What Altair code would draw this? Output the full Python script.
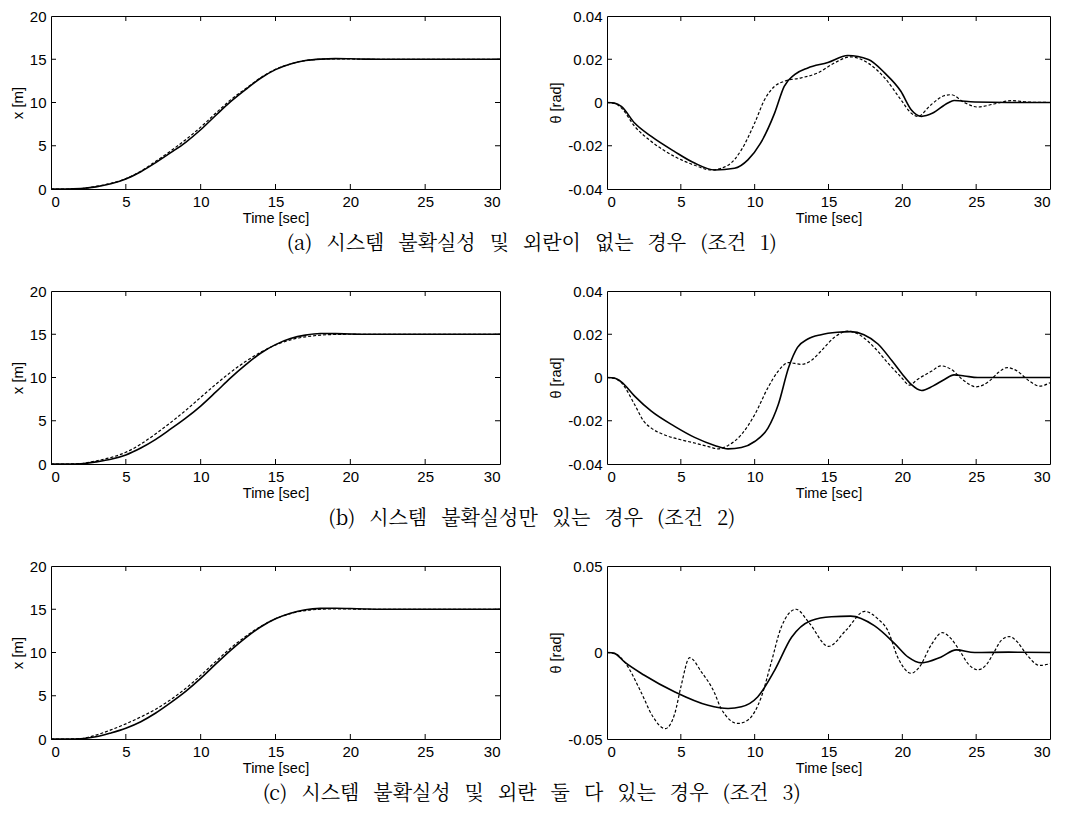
import altair as alt
import pandas as pd

# ---------------- data ----------------
XT = list(range(0, 31))

# (a) position x [m]
xa_solid = [0, 0, 0.05, 0.25, 0.6, 1.16, 2.0, 3.05, 4.2, 5.4, 6.85, 8.5, 10.1, 11.5, 12.8, 13.8,
            14.45, 14.85, 15.02, 15.07, 15.05, 15.02, 15.0, 15.0, 15.0, 15.0, 15.0, 15.0, 15.0, 15.0, 15.0]
xa_dash = [0, 0, 0.05, 0.3, 0.65, 1.2, 2.05, 3.2, 4.4, 5.7, 7.15, 8.75, 10.3, 11.6, 12.85, 13.85,
           14.45, 14.85, 15.0, 15.05, 15.03, 15.0, 15.0, 15.0, 15.0, 15.0, 15.0, 15.0, 15.0, 15.0, 15.0]
# (b)
xb_solid = [0, 0, 0.03, 0.25, 0.55, 1.05, 1.85, 2.85, 4.05, 5.3, 6.7, 8.3, 9.95, 11.45, 12.8, 13.8,
            14.5, 14.9, 15.08, 15.07, 15.03, 15.0, 15.0, 15.0, 15.0, 15.0, 15.0, 15.0, 15.0, 15.0, 15.0]
xb_dash = [0, 0, 0.05, 0.35, 0.75, 1.35, 2.3, 3.5, 4.8, 6.2, 7.7, 9.2, 10.6, 11.85, 12.9, 13.75,
           14.35, 14.7, 14.9, 14.98, 15.0, 15.0, 15.0, 15.0, 15.0, 15.0, 15.0, 15.0, 15.0, 15.0, 15.0]
# (c)
xc_solid = [0, 0, 0.03, 0.25, 0.7, 1.25, 2.0, 3.0, 4.2, 5.5, 7.0, 8.65, 10.25, 11.7, 12.95, 13.9,
            14.55, 14.95, 15.1, 15.12, 15.08, 15.03, 15.0, 15.0, 15.0, 15.0, 15.0, 15.0, 15.0, 15.0, 15.0]
xc_dash = [0, 0, 0.05, 0.45, 1.05, 1.75, 2.55, 3.45, 4.55, 5.85, 7.35, 8.95, 10.5, 11.85, 13.0, 13.9,
           14.5, 14.85, 15.0, 15.05, 15.03, 15.0, 15.0, 15.0, 15.0, 15.0, 15.0, 15.0, 15.0, 15.0, 15.0]

# (a) angle theta [rad]
ta_solid_t = [0, 0.5, 0.97, 1.87, 3, 4.58, 5.93, 7.29, 8.64, 9.54, 10.4, 11.35, 12.0, 12.7, 13.6, 14.96,
              16.3, 17.7, 18.8, 19.9, 20.6, 21.3, 22.06, 23.08, 23.5, 24.9, 27.1, 30]
ta_solid_v = [0, -0.0003, -0.0018, -0.0095, -0.0157, -0.0227, -0.028, -0.0312, -0.0304, -0.0265, -0.0188,
              -0.0049, 0.0075, 0.0129, 0.016, 0.0185, 0.0217, 0.0199, 0.0137, 0.0052, -0.0033, -0.0064,
              -0.0049, -0.0002, 0.0009, 0.0002, 0.0, 0.0]
ta_dash_t = [0, 0.5, 0.97, 1.87, 3, 4.58, 5.93, 7.06, 8.2, 9.1, 10.0, 10.67, 11.35, 12.0, 13.15, 14.28,
             15.4, 16.5, 17.66, 18.8, 19.9, 20.6, 21.05, 21.95, 22.85, 23.3, 24.2, 25.1, 26.2, 27.4, 28.5, 30]
ta_dash_v = [0, -0.0004, -0.0025, -0.011, -0.018, -0.025, -0.029, -0.0312, -0.029, -0.0219, -0.0095,
             0.0013, 0.0075, 0.0098, 0.0114, 0.0137, 0.0183, 0.0211, 0.0183, 0.0114, 0.0013, -0.0049,
             -0.0064, -0.001, 0.0032, 0.0036, 0.0, -0.0021, -0.0007, 0.0009, 0.0002, 0.0]

# (b)
tb_solid_t = [0, 0.5, 0.97, 1.87, 3, 4.58, 5.93, 7.29, 8.2, 9.1, 10.0, 10.9, 11.6, 12.3, 12.9, 13.6, 14.5,
              15.6, 16.5, 17.4, 18.35, 19.3, 20.0, 20.6, 21.3, 22.06, 22.85, 23.5, 24.2, 25.1, 26.2, 30]
tb_solid_v = [0, -0.0003, -0.002, -0.0086, -0.0156, -0.0226, -0.0277, -0.0314, -0.033, -0.0324, -0.0296,
              -0.0234, -0.0125, 0.0046, 0.0139, 0.0178, 0.0198, 0.0209, 0.0212, 0.0198, 0.0155, 0.0077,
              0.0015, -0.0032, -0.006, -0.004, -0.0009, 0.0012, 0.0007, 0.0, 0.0, 0.0]
tb_dash_t = [0, 0.5, 0.97, 1.87, 2.5, 3, 4.0, 5.0, 6.0, 7.0, 7.5, 8.2, 9.1, 10.0, 10.9, 11.6, 12.3, 13.15,
             13.8, 14.5, 15.4, 16.3, 17.2, 18.1, 19.0, 19.9, 20.5, 21.0, 22.0, 22.6, 23.3, 24.2, 25.0, 25.9,
             26.5, 27.1, 27.7, 28.6, 29.3, 30]
tb_dash_v = [0, -0.0004, -0.0024, -0.0125, -0.0203, -0.0234, -0.0268, -0.0288, -0.0304, -0.0322, -0.033,
             -0.0314, -0.0264, -0.0172, -0.0047, 0.003, 0.0069, 0.0061, 0.0077, 0.0123, 0.0186, 0.0214,
             0.0193, 0.0139, 0.0069, 0.0003, -0.0035, -0.001, 0.003, 0.0054, 0.0038, -0.0016, -0.0043,
             -0.0016, 0.0023, 0.0046, 0.0033, -0.0016, -0.004, -0.0024]

# (c)
tc_solid_t = [0, 0.5, 1.2, 2.5, 4.6, 6.84, 8.2, 9.1, 10.2, 11.35, 12.5, 13.8, 15.2, 16.5, 18.1, 19.5,
              20.4, 21.3, 22.6, 23.65, 24.9, 27.2, 30]
tc_solid_v = [0, -0.0005, -0.0056, -0.013, -0.0228, -0.0305, -0.0324, -0.0314, -0.0257, -0.0103, 0.0088,
              0.0184, 0.0207, 0.021, 0.0155, 0.005, -0.0027, -0.006, -0.0027, 0.0015, 0.0, 0.0002, 0.0]
tc_dash_t = [0, 0.5, 1.2, 2.3, 3.1, 3.95, 4.6, 5.0, 5.6, 6.4, 7.3, 7.7, 8.87, 9.55, 10.45, 11.1, 11.8,
             12.8, 13.7, 15.0, 16.2, 17.45, 18.4, 19.0, 19.7, 20.6, 21.1, 22.0, 22.7, 23.3, 23.9, 24.5,
             25.1, 25.7, 26.2, 26.7, 27.25, 27.8, 28.4, 29.3, 30]
tc_dash_v = [0, -0.0005, -0.0056, -0.0228, -0.037, -0.044, -0.035, -0.02, -0.003, -0.0113, -0.0237, -0.032,
             -0.041, -0.039, -0.0257, -0.0065, 0.0146, 0.025, 0.017, 0.0035, 0.013, 0.0238, 0.019,
             0.013, -0.003, -0.012, -0.009, 0.005, 0.0115, 0.008, 0.0008, -0.007, -0.010, -0.007,
             0.0, 0.007, 0.0092, 0.006, -0.001, -0.0075, -0.0065]

X_TICKS = [0, 5, 10, 15, 20, 25, 30]
POS_TICKS = [0, 5, 10, 15, 20]
ANG_TICKS_AB = [-0.04, -0.02, 0, 0.02, 0.04]
ANG_TICKS_C = [-0.05, 0, 0.05]

CAPTIONS = [
    "(a) 시스템 불확실성 및 외란이 없는 경우 (조건 1)",
    "(b) 시스템 불확실성만 있는 경우 (조건 2)",
    "(c) 시스템 불확실성 및 외란 둘 다 있는 경우 (조건 3)",
]

# ---------------- chart ----------------
H = 173
W_L = 449
W_R = 443
FONT = "Liberation Sans"
LABEL_EXPR = ("datum.value == 0 ? '0' : (datum.value < 0 ? '-' + format(-datum.value, '.2f') "
              ": format(datum.value, '.2f'))")
WIDE_SPACE = "\u2002\u2009"  # the printed caption uses wide word spacing


def panel(ts, vs, td, vd, ydomain, yticks, ytitle, width, angle):
    solid = pd.DataFrame({"t": ts, "v": vs})
    dashed = pd.DataFrame({"t": td, "v": vd})
    if angle:
        yaxis = alt.Axis(values=yticks, title=ytitle, labelExpr=LABEL_EXPR, titleFontSize=14.5)
    else:
        yaxis = alt.Axis(values=yticks, title=ytitle, titleFontSize=15)
    x = alt.X("t:Q", scale=alt.Scale(domain=[0, 30], nice=False, zero=False),
              axis=alt.Axis(values=X_TICKS, title="Time [sec]", format="d"))
    y = alt.Y("v:Q", scale=alt.Scale(domain=ydomain, nice=False, zero=False), axis=yaxis)
    l1 = alt.Chart(solid).mark_line(color="black", strokeWidth=1.6, interpolate="monotone").encode(x=x, y=y)
    l2 = alt.Chart(dashed).mark_line(color="black", strokeWidth=1.2, strokeDash=[3, 2],
                                     interpolate="monotone").encode(x="t:Q", y="v:Q")
    xt = pd.DataFrame({"t": X_TICKS[1:-1]})
    yt = pd.DataFrame({"v": yticks[1:-1]})
    tb = alt.Chart(xt).mark_rule(color="black", strokeWidth=1).encode(
        x="t:Q", y=alt.value(H), y2=alt.value(H - 5))
    tt = alt.Chart(xt).mark_rule(color="black", strokeWidth=1).encode(
        x="t:Q", y=alt.value(0), y2=alt.value(5))
    tl = alt.Chart(yt).mark_rule(color="black", strokeWidth=1).encode(
        y="v:Q", x=alt.value(0), x2=alt.value(5))
    tr = alt.Chart(yt).mark_rule(color="black", strokeWidth=1).encode(
        y="v:Q", x=alt.value(width), x2=alt.value(width - 5))
    return alt.layer(l1, l2, tb, tt, tl, tr).properties(width=width, height=H)


rows_spec = [
    (xa_solid, xa_dash, ta_solid_t, ta_solid_v, ta_dash_t, ta_dash_v, [-0.04, 0.04], ANG_TICKS_AB),
    (xb_solid, xb_dash, tb_solid_t, tb_solid_v, tb_dash_t, tb_dash_v, [-0.04, 0.04], ANG_TICKS_AB),
    (xc_solid, xc_dash, tc_solid_t, tc_solid_v, tc_dash_t, tc_dash_v, [-0.05, 0.05], ANG_TICKS_C),
]

rows = []
for i, (xs, xd, ast, asv, adt, adv, dom, yt) in enumerate(rows_spec):
    left = panel(XT, xs, XT, xd, [0, 20], POS_TICKS, "x [m]", W_L, False)
    right = panel(ast, asv, adt, adv, dom, yt, "θ [rad]", W_R, True)
    row = alt.hconcat(left, right, spacing=107, bounds="flush").properties(
        title=alt.TitleParams(CAPTIONS[i].replace(" ", WIDE_SPACE), orient="bottom", anchor="middle",
                              font="Noto Serif CJK KR, Noto Sans CJK KR", fontSize=20,
                              fontWeight="normal", color="black", offset=9))
    rows.append(row)

chart = alt.vconcat(*rows, spacing=29).properties(
    padding={"left": 1, "top": 0, "right": 5, "bottom": 6}
).configure_view(
    stroke="black", strokeWidth=1
).configure_axis(
    domain=False, ticks=False, grid=False,
    labelFont=FONT, labelFontSize=15, labelColor="black",
    titleFont=FONT, titleFontSize=14.5, titleFontWeight="normal", titleColor="black",
).configure_axisX(labelPadding=5, titlePadding=2).configure_axisY(labelPadding=5, titlePadding=4)

chart.save("out.html", embed_options={"renderer": "svg", "actions": False})
